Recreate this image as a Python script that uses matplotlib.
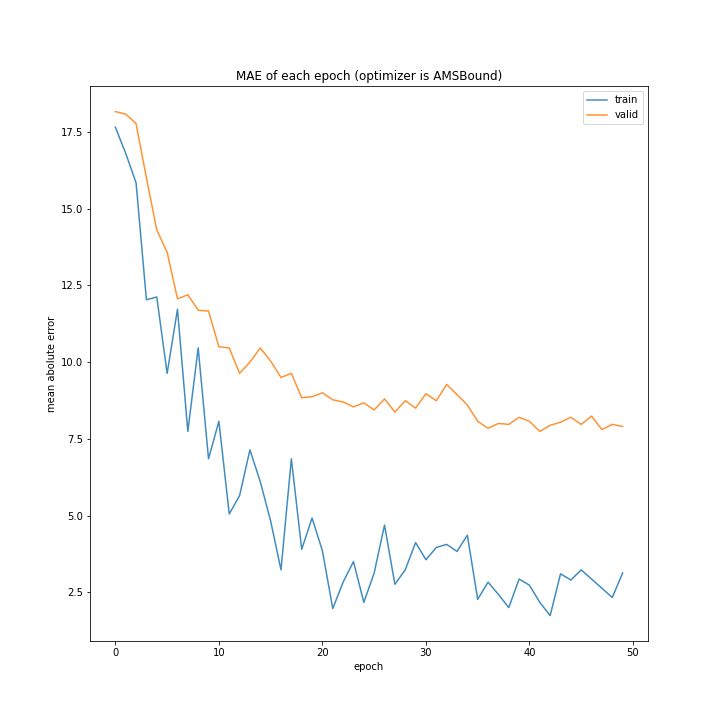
import matplotlib
matplotlib.use("Agg")
import matplotlib.pyplot as plt

epochs = list(range(50))
train_mae = [17.65, 16.8, 15.84, 12.03, 12.12, 9.63, 11.72, 7.74, 10.46, 6.85,
             8.07, 5.05, 5.65, 7.14, 6.1, 4.82, 3.23, 6.85, 3.9, 4.92,
             3.85, 1.97, 2.83, 3.5, 2.17, 3.13, 4.69, 2.76, 3.23, 4.12,
             3.56, 3.96, 4.06, 3.83, 4.36, 2.27, 2.83, 2.43, 2.0, 2.93,
             2.73, 2.17, 1.74, 3.1, 2.9, 3.23, 2.93, 2.63, 2.33, 3.13]
valid_mae = [18.16, 18.08, 17.77, 16.0, 14.3, 13.58, 12.06, 12.19, 11.69, 11.66,
             10.5, 10.46, 9.63, 10.0, 10.46, 10.03, 9.5, 9.63, 8.84, 8.87,
             9.0, 8.77, 8.7, 8.54, 8.67, 8.44, 8.8, 8.37, 8.74, 8.5,
             8.97, 8.74, 9.27, 8.94, 8.6, 8.07, 7.84, 8.0, 7.97, 8.2,
             8.07, 7.74, 7.94, 8.04, 8.2, 7.97, 8.24, 7.8, 7.97, 7.9]

fig, ax = plt.subplots(figsize=(10, 10), dpi=72)
ax.plot(epochs, train_mae, label="train", alpha=0.85)
ax.plot(epochs, valid_mae, label="valid", alpha=0.85)
ax.set_title("MAE of each epoch (optimizer is AMSBound)")
ax.set_xlabel("epoch")
ax.set_ylabel("mean abolute error")
ax.legend(loc="upper right")
fig.savefig("out.png", dpi=72)
